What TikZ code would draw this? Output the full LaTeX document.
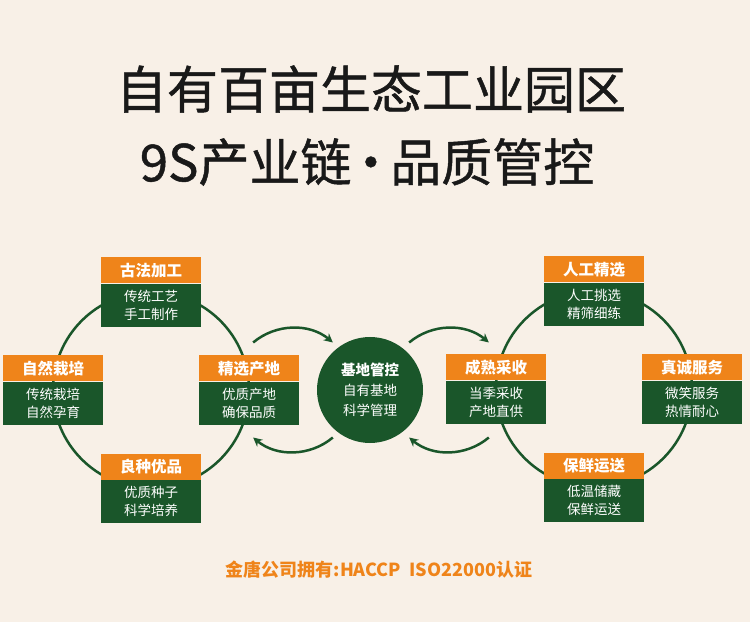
\documentclass[tikz,border=0pt]{standalone}
\usepackage{fontspec}
\setmainfont{Noto Sans CJK SC}
\newfontfamily\titlefont[FakeBold=0.9]{Noto Sans CJK SC}
\usetikzlibrary{arrows.meta,positioning,calc}
\definecolor{parkbg}{RGB}{248,240,231}
\definecolor{parkorange}{RGB}{239,132,26}
\definecolor{parkgreen}{RGB}{26,86,42}
\tikzset{
  headbox/.style={fill=parkorange, text=white, font=\fontsize{15.5}{18}\selectfont\bfseries,
    minimum width=100pt, minimum height=26pt, inner sep=0pt},
  bodybox/.style={fill=parkgreen, text=white, font=\fontsize{13.5}{18.5}\selectfont,
    minimum width=100pt, minimum height=43pt, inner sep=0pt, align=center},
  ring/.style={draw=parkgreen, line width=2.5pt},
  loopflow/.style={-{Stealth[length=9pt,width=9pt]}, draw=parkgreen, line width=2.5pt},
  hub/.style={circle, fill=parkgreen, text=white, minimum size=106pt, inner sep=0pt,
    align=center, font=\fontsize{13.5}{20}\selectfont},
  headline/.style={font=\titlefont\fontsize{51}{60}\selectfont, text=black!90}
}

\begin{document}
\begin{tikzpicture}[x=1pt, y=1pt, node distance=0pt]
  \fill[parkbg] (0,0) rectangle (750,622);
  \useasboundingbox (0,0) rectangle (750,622);
  \node[headline] (title) at (371,533) {自有百亩生态工业园区};
  \node[headline] (subtitle) at (367,460) {9S产业链\kern-0.12em·\kern-0.12em品质管控};
  \coordinate (lc) at (151,232);
  \coordinate (rc) at (594,233);
  \draw[ring] (lc) circle[radius=98];
  \draw[ring] (rc) circle[radius=98];

  \node[headbox] (gufa) at ($(lc)+(0,119.5)$) {古法加工};
  \node[bodybox, below=of gufa] (gufatxt) {传统工艺\\手工制作};
  \node[headbox] (ziran) at ($(lc)+(-98,21.5)$) {自然栽培};
  \node[bodybox, below=of ziran] (zirantxt) {传统栽培\\自然孕育};
  \node[headbox] (jingxuan) at ($(lc)+(98,21.5)$) {精选产地};
  \node[bodybox, below=of jingxuan] (jingxuantxt) {优质产地\\确保品质};
  \node[headbox] (liangzhong) at ($(lc)+(0,-76.5)$) {良种优品};
  \node[bodybox, below=of liangzhong] (liangzhongtxt) {优质种子\\科学培养};

  \node[headbox] (rengong) at ($(rc)+(0,119.5)$) {人工精选};
  \node[bodybox, below=of rengong] (rengongtxt) {人工挑选\\精筛细练};
  \node[headbox] (chengshu) at ($(rc)+(-98,21.5)$) {成熟采收};
  \node[bodybox, below=of chengshu] (chengshutxt) {当季采收\\产地直供};
  \node[headbox] (zhencheng) at ($(rc)+(98,21.5)$) {真诚服务};
  \node[bodybox, below=of zhencheng] (zhenchengtxt) {微笑服务\\热情耐心};
  \node[headbox] (baoxian) at ($(rc)+(0,-76.5)$) {保鲜运送};
  \node[bodybox, below=of baoxian] (baoxiantxt) {低温储藏\\保鲜运送};

  \node[hub] (jidi) at (370,232) {{\fontsize{14.5}{20}\selectfont\bfseries 基地管控}\\自有基地\\科学管理};

  \coordinate (lm) at (293,232);
  \coordinate (rm) at (449,232);
  \coordinate (ltop) at ($(lm)+(130:62)$);
  \coordinate (lbot) at ($(lm)+(-50:62)$);
  \coordinate (rtop) at ($(rm)+(130:62)$);
  \coordinate (rbot) at ($(rm)+(-50:62)$);
  \draw[loopflow] (ltop) arc[start angle=130, end angle=50, radius=62];
  \draw[loopflow] (lbot) arc[start angle=-50, end angle=-130, radius=62];
  \draw[loopflow] (rtop) arc[start angle=130, end angle=50, radius=62];
  \draw[loopflow] (rbot) arc[start angle=-50, end angle=-130, radius=62];

  \node[font=\fontsize{18}{20}\selectfont\bfseries, text=parkorange] (cert) at (379,52)
    {金唐公司拥有:HACCP\ \ ISO22000认证};
\end{tikzpicture}
\end{document}
